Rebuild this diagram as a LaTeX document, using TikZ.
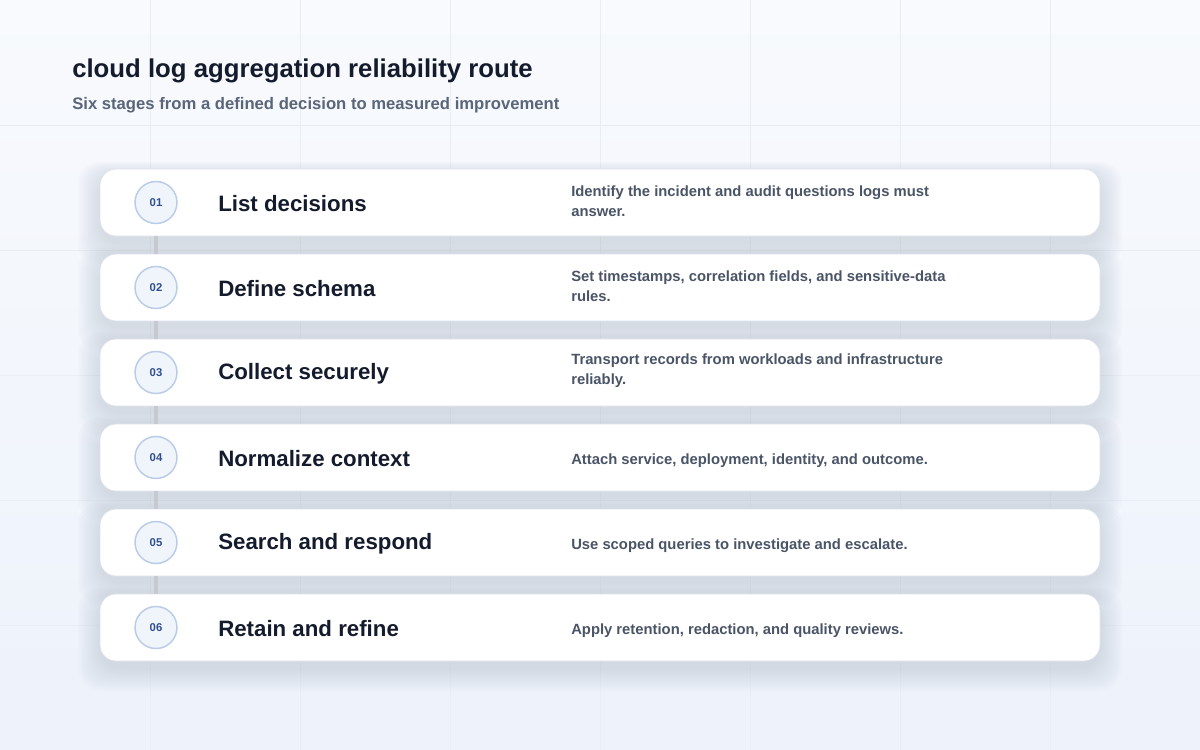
\documentclass[tikz,border=0pt]{standalone}
\usepackage{fontspec}
\setmainfont{Liberation Sans}
\definecolor{bgA}{HTML}{F8FAFD}
\definecolor{bgB}{HTML}{EDF2FB}
\definecolor{gridc}{HTML}{E9EDF4}
\definecolor{ink}{HTML}{141B2D}
\definecolor{subc}{HTML}{5A6579}
\definecolor{descc}{HTML}{4A5467}
\definecolor{numc}{HTML}{2F4F91}
\definecolor{circf}{HTML}{F0F4FB}
\definecolor{circd}{HTML}{BACCE8}
\definecolor{linkc}{HTML}{C6C9D0}
\definecolor{cardd}{HTML}{DCE1EB}
\definecolor{shadc}{HTML}{7D88A8}
\begin{document}
\begin{tikzpicture}[x=0.75pt,y=-0.75pt,
  card/.style={draw=cardd,line width=0.6pt,fill=white,rounded corners=12pt,minimum width=750pt,minimum height=50.25pt},
  stepnum/.style={circle,draw=circd,line width=1.1pt,fill=circf,minimum size=31.5pt,inner sep=0pt,
    font=\fontsize{8.5}{10}\selectfont\bfseries,text=numc},
  steptitle/.style={anchor=west,inner sep=0pt,font=\fontsize{16.7}{20}\selectfont\bfseries,text=ink},
  stepdesc/.style={anchor=west,inner sep=0pt,align=left,font=\fontsize{11.1}{15}\selectfont\bfseries,text=descc},
  link/.style={draw=linkc,line width=3pt}]
\useasboundingbox (0,0) rectangle (1200,750);
\shade[top color=bgA,bottom color=bgB] (0,0) rectangle (1200,750);
\foreach \gx in {150,300,...,1050} \draw[gridc,line width=0.5pt] (\gx,0) -- (\gx,750);
\foreach \gy in {125,250,...,625} \draw[gridc,line width=0.5pt] (0,\gy) -- (1200,\gy);
% soft shadows of the cards
\foreach \yy in {202.5,287.5,372.5,457.5,542.5,627.5}
  \foreach \s in {0,2,...,22}
    \fill[shadc,opacity=0.018,rounded corners=16pt] ({100-\s},{\yy-27.5-\s*0.6}) rectangle ({1100+\s},{\yy+41.5+\s});
% headings
\node[anchor=base west,inner sep=0pt,font=\fontsize{19.3}{23}\selectfont\bfseries,text=ink] (title) at (72,77) {cloud log aggregation reliability route};
\node[anchor=base west,inner sep=0pt,font=\fontsize{12.5}{14}\selectfont\bfseries,text=subc] (subtitle) at (72,109) {Six stages from a defined decision to measured improvement};
% cards
\foreach \i/\yy in {1/202.5,2/287.5,3/372.5,4/457.5,5/542.5,6/627.5}
  \node[card] (k\i) at (600,\yy) {};
% circles
\foreach \i/\yy in {1/202.5,2/287.5,3/372.5,4/457.5,5/542.5,6/627.5}
  \node[stepnum] (c\i) at (156,\yy) {0\i};
% connectors
\foreach \a/\b in {1/2,2/3,3/4,4/5,5/6}
  \draw[link] (k\a.south -| c\a) -- (k\b.north -| c\b);
% titles
\node[steptitle] (t1) at (218,203.5) {List decisions};
\node[steptitle] (t2) at (218,288.5) {Define schema};
\node[steptitle] (t3) at (218,373.5) {Collect securely};
\node[steptitle] (t4) at (218,458.5) {Normalize context};
\node[steptitle] (t5) at (218,543.5) {Search and respond};
\node[steptitle] (t6) at (218,628.5) {Retain and refine};
% descriptions
\node[stepdesc] (d1) at (571,201) {Identify the incident and audit questions logs must\\answer.};
\node[stepdesc] (d2) at (571,286) {Set timestamps, correlation fields, and sensitive-data\\rules.};
\node[stepdesc] (d3) at (571,371) {Transport records from workloads and infrastructure\\reliably.};
\node[stepdesc] (d4) at (571,461) {Attach service, deployment, identity, and outcome.};
\node[stepdesc] (d5) at (571,546) {Use scoped queries to investigate and escalate.};
\node[stepdesc] (d6) at (571,631) {Apply retention, redaction, and quality reviews.};
\end{tikzpicture}
\end{document}
